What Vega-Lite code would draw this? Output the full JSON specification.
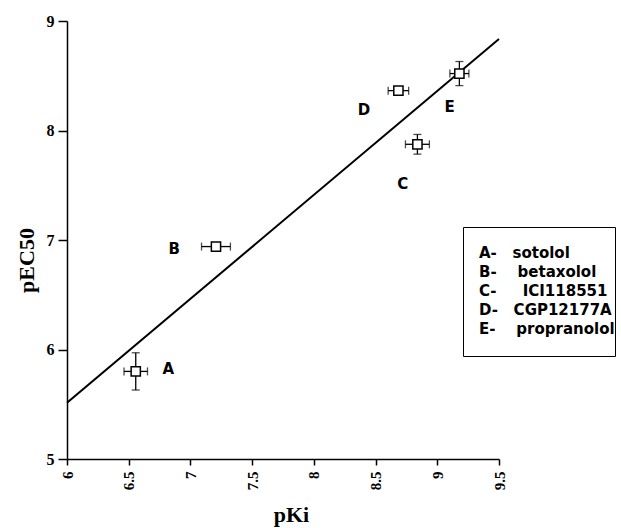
{
  "$schema": "https://vega.github.io/schema/vega-lite/v6.json",
  "width": 432,
  "height": 438,
  "autosize": {"type": "none"},
  "padding": {"left": 67, "top": 21, "right": 122, "bottom": 69},
  "background": "white",
  "config": {
    "view": {"stroke": null},
    "axis": {
      "grid": false,
      "domainColor": "black",
      "domainWidth": 1.5,
      "tickColor": "black",
      "tickWidth": 1.5,
      "labelColor": "black",
      "labelFont": "Liberation Serif",
      "labelFontWeight": "bold",
      "titleColor": "black",
      "titleFont": "Liberation Serif",
      "titleFontWeight": "bold",
      "titleFontSize": 22,
      "labelOverlap": false,
      "labelFlush": false
    }
  },
  "datasets": {
    "compounds": [
      {"id": "A", "entry": "A-\u00a0\u00a0\u00a0sotolol", "pKi": 6.557, "pKiErr": 0.095, "pEC50": 5.80, "pEC50Err": 0.17},
      {"id": "B", "entry": "B-\u00a0\u00a0\u00a0\u00a0betaxolol", "pKi": 7.207, "pKiErr": 0.117, "pEC50": 6.94, "pEC50Err": 0},
      {"id": "C", "entry": "C-\u00a0\u00a0\u00a0\u00a0\u00a0ICI118551", "pKi": 8.839, "pKiErr": 0.097, "pEC50": 7.874, "pEC50Err": 0.09},
      {"id": "D", "entry": "D-\u00a0\u00a0\u00a0CGP12177A", "pKi": 8.685, "pKiErr": 0.083, "pEC50": 8.364, "pEC50Err": 0},
      {"id": "E", "entry": "E-\u00a0\u00a0\u00a0\u00a0propranolol", "pKi": 9.179, "pKiErr": 0.077, "pEC50": 8.52, "pEC50Err": 0.11}
    ],
    "fit": [
      {"pKi": 6.0, "pEC50": 5.514},
      {"pKi": 9.5, "pEC50": 8.836}
    ],
    "letters": [
      {"id": "A", "pKi": 6.821, "pEC50": 5.828},
      {"id": "B", "pKi": 6.868, "pEC50": 6.924},
      {"id": "C", "pKi": 8.721, "pEC50": 7.525},
      {"id": "D", "pKi": 8.405, "pEC50": 8.195},
      {"id": "E", "pKi": 9.099, "pEC50": 8.224}
    ]
  },
  "encoding": {
    "x": {
      "field": "pKi",
      "type": "quantitative",
      "scale": {"domain": [6, 9.5], "nice": false, "zero": false},
      "axis": {
        "title": "pKi",
        "values": [6, 6.5, 7, 7.5, 8, 8.5, 9, 9.5],
        "format": ".1~f",
        "labelAngle": -90,
        "labelFontSize": 15,
        "labelPadding": 6,
        "tickSize": 6,
        "titleX": 224,
        "titleY": 62,
        "titleBaseline": "alphabetic"
      }
    },
    "y": {
      "field": "pEC50",
      "type": "quantitative",
      "scale": {"domain": [5, 9], "nice": false, "zero": false},
      "axis": {
        "title": "pEC50",
        "values": [5, 6, 7, 8, 9],
        "format": "d",
        "labelFontSize": 16,
        "labelPadding": 4,
        "tickSize": 9,
        "titleX": -34,
        "titleY": 239,
        "titleBaseline": "alphabetic"
      }
    }
  },
  "layer": [
    {
      "data": {"name": "fit"},
      "mark": {"type": "line", "color": "black", "strokeWidth": 2}
    },
    {
      "data": {"name": "compounds"},
      "mark": {"type": "errorbar", "ticks": true, "size": 8, "thickness": 1.3, "color": "black"},
      "encoding": {
        "xError": {"field": "pKiErr"}
      }
    },
    {
      "data": {"name": "compounds"},
      "transform": [{"filter": "datum.pEC50Err > 0"}],
      "mark": {"type": "errorbar", "ticks": true, "size": 8, "thickness": 1.3, "color": "black"},
      "encoding": {
        "yError": {"field": "pEC50Err"}
      }
    },
    {
      "data": {"name": "compounds"},
      "mark": {"type": "point", "shape": "square", "size": 85, "filled": true, "fill": "white", "fillOpacity": 1, "strokeWidth": 1.5, "opacity": 1},
      "encoding": {
        "stroke": {
          "field": "entry",
          "type": "nominal",
          "scale": {
            "domain": ["\u00a0", "A-\u00a0\u00a0\u00a0sotolol", "B-\u00a0\u00a0\u00a0\u00a0betaxolol", "C-\u00a0\u00a0\u00a0\u00a0\u00a0ICI118551", "D-\u00a0\u00a0\u00a0CGP12177A", "E-\u00a0\u00a0\u00a0\u00a0propranolol", "\u00a0\u00a0"],
            "range": ["black", "black", "black", "black", "black", "black", "black"]
          },
          "legend": {
            "title": null,
            "orient": "none",
            "legendX": 396,
            "legendY": 206,
            "strokeColor": "black",
            "padding": 0,
            "symbolSize": 0,
            "symbolOpacity": 0,
            "symbolStrokeWidth": 0,
            "labelOffset": 1,
            "labelFont": "DejaVu Sans",
            "labelFontSize": 15,
            "labelFontWeight": "bold",
            "labelColor": "black",
            "labelLimit": 300,
            "rowPadding": 2.8
          }
        }
      }
    },
    {
      "data": {"name": "letters"},
      "mark": {"type": "text", "font": "DejaVu Sans", "fontWeight": "bold", "fontSize": 15, "color": "black", "align": "center", "baseline": "middle", "dy": 1},
      "encoding": {
        "text": {"field": "id"}
      }
    }
  ]
}
